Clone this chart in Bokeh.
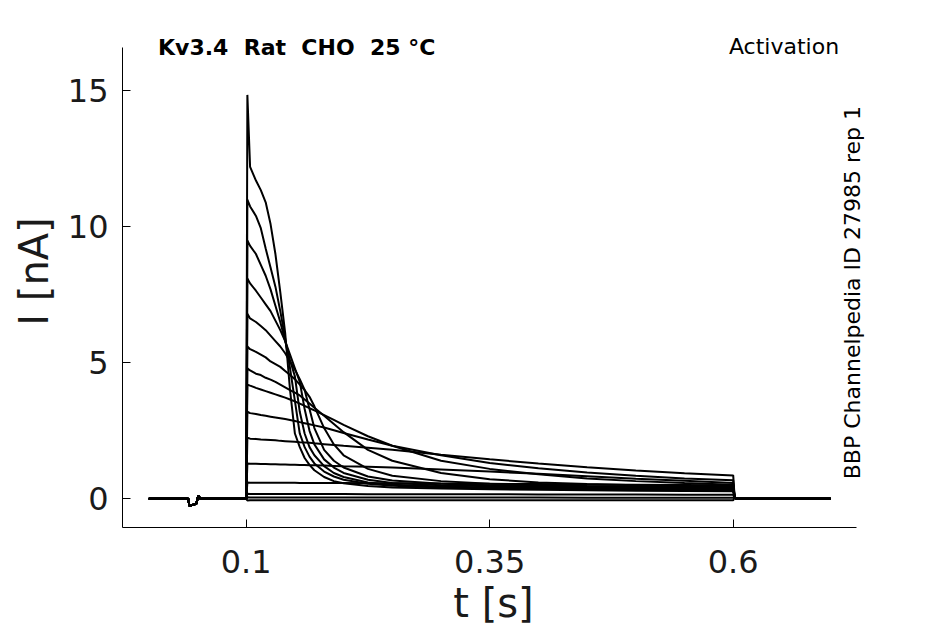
import math
from bokeh.plotting import figure
from bokeh.models import Range1d, FixedTicker, Label, NumeralTickFormatter
from bokeh.embed import file_html
from bokeh.resources import INLINE

# ---- axis ticks ----
X_TICKS = [0.1, 0.35, 0.6]
Y_TICKS = [0, 5, 10, 15]

# ---- shared holding segments (s, nA) ----
PRE_T = [0.0, 0.0406, 0.0416, 0.0488, 0.0508, 0.053, 0.1]
PRE_I = [0.0, 0.0, -0.26, -0.18, 0.12, 0.0, 0.0]
POST_T = [0.6015, 0.604, 0.7]
POST_I = [0.04, 0.0, 0.0]

# ---- test pulse time samples (s) ----
PULSE_T = [0.1, 0.1012, 0.104, 0.11, 0.115, 0.12, 0.125, 0.13, 0.135, 0.14,
           0.145, 0.15, 0.155, 0.16, 0.165, 0.17, 0.18, 0.19, 0.2, 0.225,
           0.25, 0.3, 0.35, 0.4, 0.45, 0.5, 0.55, 0.6]

# ---- currents during pulse (nA), one list per voltage step ----
trace_01 = [0, 14.85, 12.2, 11.7, 11.35, 10.9, 10.1, 9.0, 7.6, 6.1,
            4.0, 2.4, 1.9, 1.5, 1.25, 1.05, 0.8, 0.65, 0.57, 0.47,
            0.42, 0.38, 0.35, 0.33, 0.31, 0.3, 0.29, 0.28]
trace_02 = [0, 11.0, 10.75, 10.4, 9.95, 9.2, 8.5, 7.8, 6.9, 5.9,
            4.8, 3.6, 2.4, 1.9, 1.55, 1.3, 1.0, 0.82, 0.7, 0.55,
            0.48, 0.42, 0.39, 0.37, 0.35, 0.33, 0.32, 0.31]
trace_03 = [0, 9.5, 9.3, 9.0, 8.6, 8.2, 7.7, 7.1, 6.5, 5.8,
            5.1, 4.5, 3.2, 2.4, 1.9, 1.6, 1.2, 0.95, 0.8, 0.6,
            0.52, 0.45, 0.42, 0.4, 0.38, 0.36, 0.35, 0.34]
trace_04 = [0, 8.1, 7.92, 7.65, 7.4, 7.15, 6.9, 6.55, 6.2, 5.8,
            5.3, 4.8, 4.3, 3.3, 2.5, 2.0, 1.45, 1.15, 0.95, 0.7,
            0.58, 0.5, 0.46, 0.43, 0.41, 0.39, 0.38, 0.37]
trace_05 = [0, 6.8, 6.63, 6.5, 6.35, 6.2, 6.0, 5.8, 5.6, 5.35,
            5.05, 4.75, 4.4, 4.0, 3.3, 2.6, 1.8, 1.4, 1.15, 0.82,
            0.67, 0.55, 0.5, 0.47, 0.45, 0.43, 0.42, 0.41]
trace_06 = [0, 5.6, 5.5, 5.4, 5.3, 5.2, 5.05, 4.95, 4.85, 4.7,
            4.55, 4.4, 4.2, 4.0, 3.75, 3.4, 2.6, 2.0, 1.6, 1.1,
            0.85, 0.65, 0.55, 0.5, 0.47, 0.45, 0.43, 0.41]
trace_07 = [0, 4.8, 4.72, 4.6, 4.55, 4.45, 4.38, 4.3, 4.2, 4.1,
            4.0, 3.9, 3.8, 3.65, 3.5, 3.35, 3.05, 2.75, 2.45, 1.8,
            1.4, 0.95, 0.72, 0.6, 0.54, 0.5, 0.47, 0.45]
trace_08 = [0, 4.2, 4.16, 4.08, 4.02, 3.96, 3.9, 3.84, 3.78, 3.72,
            3.65, 3.58, 3.5, 3.42, 3.33, 3.25, 3.08, 2.9, 2.72, 2.3,
            1.95, 1.4, 1.1, 0.9, 0.75, 0.65, 0.58, 0.52]
trace_09 = [0, 3.2, 3.15, 3.12, 3.08, 3.05, 3.02, 2.99, 2.96, 2.93,
            2.9, 2.86, 2.82, 2.78, 2.74, 2.7, 2.62, 2.52, 2.42, 2.18,
            1.95, 1.6, 1.32, 1.12, 0.97, 0.85, 0.75, 0.68]
trace_10 = [0, 2.25, 2.21, 2.2, 2.18, 2.17, 2.16, 2.15, 2.13, 2.12,
            2.11, 2.1, 2.08, 2.07, 2.06, 2.04, 2.01, 1.98, 1.95, 1.88,
            1.8, 1.62, 1.45, 1.3, 1.16, 1.04, 0.94, 0.86]
trace_11 = [0, 1.3, 1.29, 1.29, 1.28, 1.28, 1.27, 1.27, 1.26, 1.26,
            1.25, 1.25, 1.24, 1.24, 1.23, 1.23, 1.22, 1.21, 1.2, 1.18,
            1.15, 1.08, 1.0, 0.92, 0.83, 0.74, 0.66, 0.58]
trace_12 = [0, 0.6, 0.59, 0.59, 0.59, 0.59, 0.59, 0.59, 0.59, 0.59,
            0.59, 0.59, 0.58, 0.58, 0.58, 0.58, 0.58, 0.58, 0.58, 0.57,
            0.57, 0.56, 0.55, 0.54, 0.53, 0.52, 0.51, 0.5]
trace_13 = [0, 0.19, 0.18, 0.18, 0.18, 0.18, 0.18, 0.18, 0.18, 0.18,
            0.18, 0.18, 0.18, 0.18, 0.18, 0.18, 0.18, 0.18, 0.18, 0.17,
            0.17, 0.17, 0.17, 0.16, 0.16, 0.16, 0.15, 0.15]
trace_14 = [0, 0.06, 0.05, 0.05, 0.05, 0.05, 0.05, 0.05, 0.05, 0.05,
            0.05, 0.05, 0.05, 0.05, 0.05, 0.05, 0.05, 0.05, 0.05, 0.05,
            0.05, 0.05, 0.05, 0.05, 0.04, 0.04, 0.04, 0.04]
trace_15 = [0, -0.06, -0.05, -0.05, -0.05, -0.05, -0.05, -0.05, -0.05, -0.05,
            -0.05, -0.05, -0.05, -0.05, -0.05, -0.05, -0.05, -0.05, -0.05, -0.05,
            -0.05, -0.05, -0.05, -0.05, -0.05, -0.05, -0.05, -0.05]

TRACES = [trace_01, trace_02, trace_03, trace_04, trace_05, trace_06, trace_07,
          trace_08, trace_09, trace_10, trace_11, trace_12, trace_13, trace_14,
          trace_15]

# double gaps kept with a no-break space so SVG does not collapse them
TITLE_LEFT = "Kv3.4 \u00a0Rat \u00a0CHO \u00a025 °C"
TITLE_RIGHT = "Activation"
SIDE_TEXT = "BBP Channelpedia ID 27985 rep 1"

FONT = "DejaVu Sans"
TXT = "#1a1a1a"

# data extent of the drawn axes
X_MIN, X_MAX = -0.027, 0.7266
Y_MIN, Y_MAX = -1.055, 16.59

p = figure(frame_width=742, frame_height=512,
           x_range=Range1d(X_MIN, 0.7348), y_range=Range1d(Y_MIN, 17.769),
           output_backend="svg", toolbar_location=None,
           min_border_left=122, min_border_right=73,
           min_border_top=15, min_border_bottom=89)
p.background_fill_color = "white"
p.border_fill_color = "white"
p.outline_line_color = None
p.grid.visible = False

for tr in TRACES:
    t = PRE_T[:-1] + PULSE_T + POST_T
    i = PRE_I[:-1] + tr + POST_I
    p.line(t, i, line_color="black", line_width=2.0)

p.xaxis.ticker = FixedTicker(ticks=X_TICKS)
p.xaxis.formatter = NumeralTickFormatter(format="0.[00]")
p.yaxis.ticker = FixedTicker(ticks=Y_TICKS)
p.xaxis.bounds = (X_MIN, X_MAX)
p.yaxis.bounds = (Y_MIN, Y_MAX)

for ax in (p.xaxis[0], p.yaxis[0]):
    ax.major_tick_in = 8
    ax.major_tick_out = 0
    ax.minor_tick_line_color = None
    ax.axis_line_color = "black"
    ax.axis_line_width = 1
    ax.major_tick_line_color = "black"
    ax.major_label_text_font = FONT
    ax.major_label_text_font_size = "32px"
    ax.major_label_text_color = TXT
    ax.axis_label_text_font = FONT
    ax.axis_label_text_font_size = "40px"
    ax.axis_label_text_font_style = "normal"
    ax.axis_label_text_color = TXT

p.xaxis.axis_label = "t [s]"
p.yaxis.axis_label = "I [nA]"
p.xaxis.major_label_standoff = 22
p.yaxis.major_label_standoff = 14
p.xaxis.axis_label_standoff = 4
p.yaxis.axis_label_standoff = 8

p.add_layout(Label(x=0.0095, y=16.60, text=TITLE_LEFT, text_font=FONT,
                   text_font_size="22px", text_font_style="bold",
                   text_color="black", text_align="left",
                   text_baseline="alphabetic"))
p.add_layout(Label(x=0.7087, y=16.63, text=TITLE_RIGHT, text_font=FONT,
                   text_font_size="22px", text_color="black",
                   text_align="right", text_baseline="alphabetic"))
p.add_layout(Label(x=0.7229, y=0.72, text=SIDE_TEXT, text_font=FONT,
                   text_font_size="22px", text_color="black",
                   angle=math.pi / 2, text_align="left",
                   text_baseline="alphabetic"))

open("out.html", "w").write(file_html(p, INLINE))
